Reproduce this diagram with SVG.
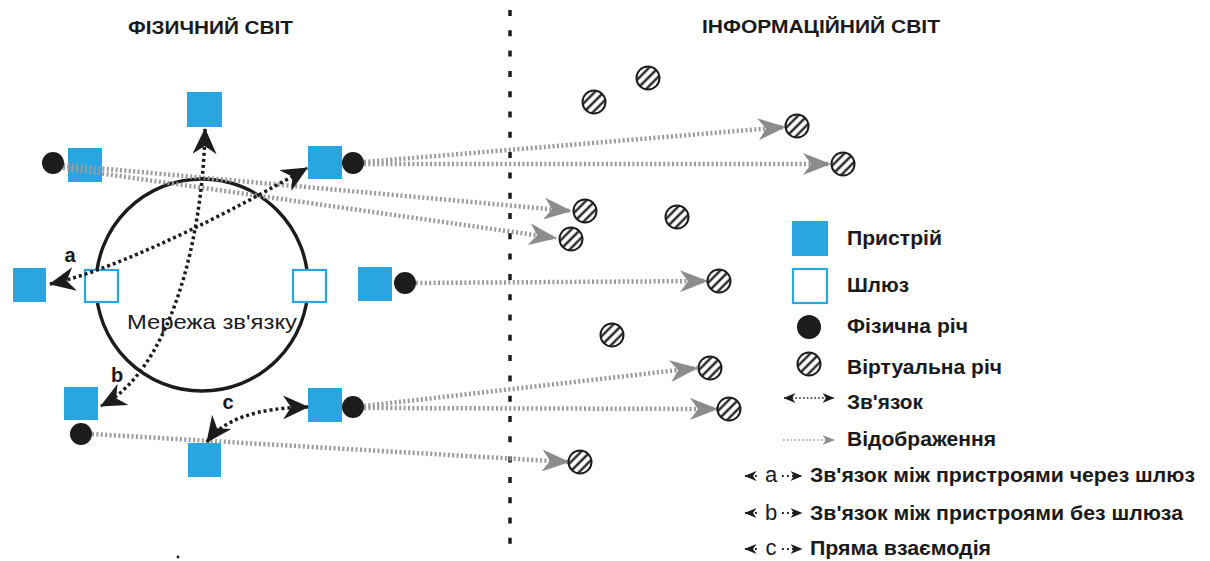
<svg xmlns="http://www.w3.org/2000/svg" width="1210" height="561" viewBox="0 0 1210 561">
<style>
.t{font-family:"Liberation Sans",Arial,sans-serif;fill:#1a1a1a}
.title{font-size:18px;font-weight:bold}
.leg{font-size:19.5px;font-weight:bold}
.lbl{font-size:20px;font-weight:bold}
.dev{fill:#29a6df}
.gw{fill:#fff;stroke:#29a6df;stroke-width:2.2}
.phys{fill:#1c1c1c}
.map{fill:none;stroke:#9a9a9a;stroke-width:4.5;stroke-dasharray:2 2.4;marker-end:url(#ga)}
.con{fill:none;stroke:#1c1c1c;stroke-width:3.5;stroke-dasharray:3 3;marker-start:url(#ba);marker-end:url(#ba)}
.lg{fill:none;stroke:#1c1c1c;stroke-width:1.8;stroke-dasharray:1.8 3.2}
</style>
<defs>
<pattern id="hatch" patternUnits="objectBoundingBox" patternContentUnits="objectBoundingBox" width="1" height="1">
<rect width="1" height="1" fill="#fff"/>
<path d="M-0.1,0.7 L0.7,-0.1 M-0.1,1.1 L1.1,-0.1 M0.3,1.1 L1.1,0.3" stroke="#1c1c1c" stroke-width="0.1"/>
</pattern>
<marker id="ga" markerUnits="userSpaceOnUse" markerWidth="28" markerHeight="22" viewBox="0 0 28 22" refX="27" refY="11" orient="auto"><path d="M0,0 L28,11 L0,22 L8,11 Z" fill="#8c8c8c"/></marker>
<marker id="ba" markerUnits="userSpaceOnUse" markerWidth="26" markerHeight="24" viewBox="0 0 26 24" refX="25" refY="12" orient="auto-start-reverse"><path d="M0,0 L26,12 L0,24 L8,12 Z" fill="#1c1c1c"/></marker>
<marker id="bs" markerUnits="userSpaceOnUse" markerWidth="12" markerHeight="10" viewBox="0 0 12 10" refX="11.5" refY="5" orient="auto-start-reverse"><path d="M0,0 L12,5 L0,10 L3.5,5 Z" fill="#1c1c1c"/></marker>
<marker id="gs" markerUnits="userSpaceOnUse" markerWidth="12" markerHeight="10" viewBox="0 0 12 10" refX="11.5" refY="5" orient="auto"><path d="M0,0 L12,5 L0,10 L3.5,5 Z" fill="#8c8c8c"/></marker>
<circle id="virt" r="11.5" fill="url(#hatch)" stroke="#1c1c1c" stroke-width="2"/>
</defs>
<rect width="1210" height="561" fill="#fff"/>

<g id="titles">
<text class="t title" x="128" y="34" textLength="165" lengthAdjust="spacingAndGlyphs">ФІЗИЧНИЙ СВІТ</text>
<text class="t title" x="702" y="33" textLength="238" lengthAdjust="spacingAndGlyphs">ІНФОРМАЦІЙНИЙ СВІТ</text>
</g>

<g id="divider">
<line x1="510" y1="10" x2="510" y2="548" stroke="#1c1c1c" stroke-width="3.5" stroke-dasharray="6 14.3"/>
</g>

<g id="network">
<circle cx="202" cy="285" r="106" fill="none" stroke="#1c1c1c" stroke-width="3.4"/>
<text class="t" x="127" y="329" font-size="21" textLength="170" lengthAdjust="spacingAndGlyphs">Мережа зв'язку</text>
</g>

<g id="gateway-left"><rect class="gw" x="85" y="270" width="33" height="32"/></g>
<g id="gateway-right"><rect class="gw" x="293" y="270" width="33" height="32"/></g>

<g id="device-top"><rect class="dev" x="187" y="92" width="35" height="35"/></g>
<g id="device-upper-left"><rect class="dev" x="68" y="148" width="34" height="34"/></g>
<g id="device-upper-right"><rect class="dev" x="308" y="146" width="34" height="33"/></g>
<g id="device-left"><rect class="dev" x="13" y="268" width="33" height="34"/></g>
<g id="device-right"><rect class="dev" x="358" y="267" width="34" height="34"/></g>
<g id="device-lower-left"><rect class="dev" x="64" y="387" width="34" height="33"/></g>
<g id="device-lower-right"><rect class="dev" x="308" y="388" width="34" height="34"/></g>
<g id="device-bottom"><rect class="dev" x="188" y="443" width="33" height="34"/></g>

<g id="connectors">
<path class="map" d="M63,165 L571,211"/>
<path class="map" d="M63,168 L556,238"/>
<path class="map" d="M364,162 L785,127"/>
<path class="map" d="M364,164 L830,164"/>
<path class="map" d="M416,283 L707,281"/>
<path class="map" d="M364,406 L697,368"/>
<path class="map" d="M364,408 L717,409"/>
<path class="map" d="M92,434 L569,462"/>
<path class="con" d="M50,284 C100,274 200,230 307,168"/>
<path class="con" d="M205,129 C203,240 170,370 101,406"/>
<path class="con" d="M207,442 Q232,408 308,407"/>
<text class="t lbl" x="70" y="262" text-anchor="middle">a</text>
<text class="t lbl" x="117" y="382" text-anchor="middle">b</text>
<text class="t lbl" x="228" y="409" text-anchor="middle">c</text>
</g>

<g id="thing-1"><circle class="phys" cx="53" cy="163" r="11"/></g>
<g id="thing-2"><circle class="phys" cx="353" cy="163" r="11"/></g>
<g id="thing-3"><circle class="phys" cx="405" cy="283" r="11"/></g>
<g id="thing-4"><circle class="phys" cx="353" cy="407" r="11"/></g>
<g id="thing-5"><circle class="phys" cx="81" cy="434" r="11"/></g>

<g id="virtual-things">
<use href="#virt" x="648" y="78"/>
<use href="#virt" x="594" y="102"/>
<use href="#virt" x="797" y="126"/>
<use href="#virt" x="843" y="164"/>
<use href="#virt" x="585" y="211"/>
<use href="#virt" x="677" y="217"/>
<use href="#virt" x="571" y="239"/>
<use href="#virt" x="719" y="281"/>
<use href="#virt" x="612" y="335"/>
<use href="#virt" x="710" y="368"/>
<use href="#virt" x="729" y="409"/>
<use href="#virt" x="580" y="462"/>
</g>

<g id="legend">
<rect class="dev" x="792" y="221" width="36" height="35"/>
<text class="t leg" x="847" y="245" textLength="95" lengthAdjust="spacingAndGlyphs">Пристрій</text>
<rect class="gw" x="793" y="269" width="34" height="34"/>
<text class="t leg" x="847" y="292" textLength="62" lengthAdjust="spacingAndGlyphs">Шлюз</text>
<circle class="phys" cx="809" cy="327" r="12"/>
<text class="t leg" x="847" y="333" textLength="121" lengthAdjust="spacingAndGlyphs">Фізична річ</text>
<use href="#virt" x="809" y="364"/>
<text class="t leg" x="847" y="374" textLength="155" lengthAdjust="spacingAndGlyphs">Віртуальна річ</text>
<path d="M784,398 L834,398" fill="none" stroke="#1c1c1c" stroke-width="1.6" stroke-dasharray="1.6 2.2" marker-start="url(#bs)" marker-end="url(#bs)"/>
<text class="t leg" x="847" y="409" textLength="76" lengthAdjust="spacingAndGlyphs">Зв'язок</text>
<path d="M783,440 L834,440" fill="none" stroke="#9a9a9a" stroke-width="1.6" stroke-dasharray="1.6 2.2" marker-end="url(#gs)"/>
<text class="t leg" x="847" y="446" textLength="149" lengthAdjust="spacingAndGlyphs">Відображення</text>
<path class="lg" d="M745,476 L760,476" marker-start="url(#bs)"/>
<text class="t" x="771" y="482" font-size="22" text-anchor="middle">a</text>
<path class="lg" d="M782,476 L802,476" marker-end="url(#bs)"/>
<text class="t leg" x="810" y="482" textLength="385" lengthAdjust="spacingAndGlyphs">Зв'язок між пристроями через шлюз</text>
<path class="lg" d="M745,513 L760,513" marker-start="url(#bs)"/>
<text class="t" x="771" y="520" font-size="22" text-anchor="middle">b</text>
<path class="lg" d="M782,513 L802,513" marker-end="url(#bs)"/>
<text class="t leg" x="810" y="520" textLength="373" lengthAdjust="spacingAndGlyphs">Зв'язок між пристроями без шлюза</text>
<path class="lg" d="M745,549 L760,549" marker-start="url(#bs)"/>
<text class="t" x="771" y="555" font-size="22" text-anchor="middle">c</text>
<path class="lg" d="M782,549 L802,549" marker-end="url(#bs)"/>
<text class="t leg" x="810" y="555" textLength="181" lengthAdjust="spacingAndGlyphs">Пряма взаємодія</text>
</g>

<circle cx="178" cy="557" r="1.4" fill="#1c1c1c"/>
</svg>
